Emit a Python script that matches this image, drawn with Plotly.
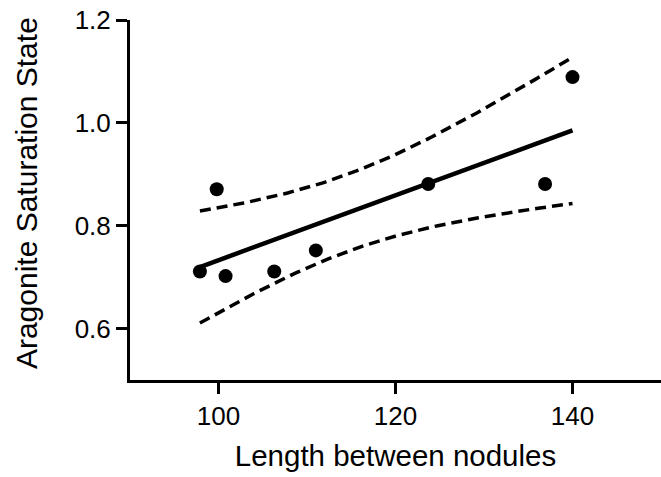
import numpy as np
import plotly.graph_objects as go

# Data
length_between_nodules = [97.9, 99.8, 100.8, 106.3, 111.0, 123.7, 136.9, 140.0]
aragonite_saturation = [0.711, 0.871, 0.702, 0.711, 0.752, 0.881, 0.881, 1.089]
x_ticks = [100, 120, 140]
y_ticks = [0.6, 0.8, 1.0, 1.2]
y_tick_labels = ["0.6", "0.8", "1.0", "1.2"]
t_crit_95 = 2.447  # Student t, df = n - 2 = 6

# Linear regression with 95% confidence band (derived from the data)
x = np.array(length_between_nodules)
y = np.array(aragonite_saturation)
n = len(x)
xm, ym = x.mean(), y.mean()
sxx = ((x - xm) ** 2).sum()
slope = ((x - xm) * (y - ym)).sum() / sxx
intercept = ym - slope * xm
resid = y - (intercept + slope * x)
s = np.sqrt((resid ** 2).sum() / (n - 2))
xf = np.linspace(x.min(), x.max(), 120)
yf = intercept + slope * xf
hw = t_crit_95 * s * np.sqrt(1.0 / n + (xf - xm) ** 2 / sxx)

FONT = "Arial, Liberation Sans, sans-serif"

fig = go.Figure()
fig.add_trace(go.Scatter(x=xf, y=yf + hw, mode="lines",
                         line=dict(color="black", width=3.5, dash="11px,6px"),
                         hoverinfo="skip", showlegend=False))
fig.add_trace(go.Scatter(x=xf, y=yf - hw, mode="lines",
                         line=dict(color="black", width=3.5, dash="11px,6px"),
                         hoverinfo="skip", showlegend=False))
fig.add_trace(go.Scatter(x=xf, y=yf, mode="lines",
                         line=dict(color="black", width=4.5),
                         showlegend=False))
fig.add_trace(go.Scatter(x=length_between_nodules, y=aragonite_saturation,
                         mode="markers",
                         marker=dict(color="black", size=14),
                         showlegend=False))

fig.add_annotation(text="Aragonite Saturation State", textangle=-90,
                   xref="paper", yref="paper", x=-0.196, y=0.519,
                   xanchor="center", yanchor="middle", showarrow=False,
                   font=dict(size=30, family=FONT, color="black"))

fig.update_layout(
    width=661, height=477,
    margin=dict(l=130, r=0, t=20, b=97),
    paper_bgcolor="white", plot_bgcolor="white",
    font=dict(family=FONT, color="black"),
    xaxis=dict(
        range=[90, 150], tickvals=x_ticks,
        showgrid=False, zeroline=False,
        showline=True, linecolor="black", linewidth=3,
        ticks="outside", ticklen=11, tickwidth=3, tickcolor="black",
        tickfont=dict(size=26, family=FONT),
        title=dict(text="Length between nodules", font=dict(size=29.5, family=FONT), standoff=16),
    ),
    yaxis=dict(
        range=[0.5, 1.2], tickvals=y_ticks, ticktext=y_tick_labels,
        showgrid=False, zeroline=False,
        showline=True, linecolor="black", linewidth=3,
        ticks="outside", ticklen=11, tickwidth=3, tickcolor="black",
        tickfont=dict(size=26, family=FONT),
    ),
)

fig.write_html("out.html")
